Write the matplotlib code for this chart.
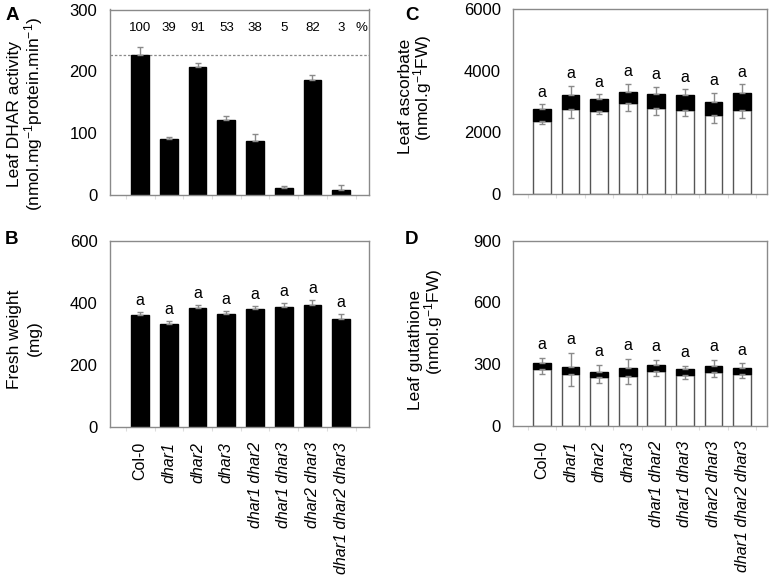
import matplotlib
matplotlib.use("Agg")
import matplotlib.pyplot as plt
import numpy as np

plt.rcParams['font.family'] = ['Liberation Sans', 'DejaVu Sans']
plt.rcParams['mathtext.default'] = 'regular'

genotypes = ['Col-0', 'dhar1', 'dhar2', 'dhar3', 'dhar1 dhar2',
             'dhar1 dhar3', 'dhar2 dhar3', 'dhar1 dhar2 dhar3']

dhar_activity = [227, 90, 207, 121, 88, 12, 186, 8]
dhar_err = [12, 3, 6, 6, 10, 3, 8, 8]
dhar_pct = ['100', '39', '91', '53', '38', '5', '82', '3']

fresh_weight = [360, 331, 385, 363, 379, 388, 392, 349]
fw_err = [10, 12, 7, 11, 10, 11, 16, 14]

asc_reduced = [2382, 2751, 2707, 2956, 2783, 2740, 2566, 2729]
asc_reduced_err = [118, 293, 108, 270, 227, 216, 260, 271]
asc_total = [2761, 3216, 3086, 3325, 3238, 3216, 2978, 3271]
asc_total_err = [152, 304, 152, 258, 249, 184, 293, 292]

gsh_reduced = [277, 254, 236, 244, 267, 249, 262, 252]
gsh_reduced_err = [25, 58, 29, 40, 24, 21, 24, 21]
gsh_total = [304, 288, 264, 282, 296, 275, 290, 283]
gsh_total_err = [25, 65, 31, 43, 25, 16, 29, 21]

letters = ['a'] * 8

W, H = 773, 581
fig = plt.figure(figsize=(W / 100, H / 100), dpi=100)

def make_ax(l, r, t, b):
    return fig.add_axes([l / W, 1 - b / H, (r - l) / W, (b - t) / H])

axA = make_ax(110, 369, 9.5, 195)
axB = make_ax(110, 369, 240.7, 427.3)
axC = make_ax(513.3, 766.7, 9.3, 194)
axD = make_ax(513.3, 766.7, 240.7, 426)

GRAY = '#8a8a8a'
x = np.arange(len(genotypes))
bw = 0.62

def style(ax, ymax, step, xlim):
    ax.set_ylim(0, ymax)
    ax.set_yticks(np.arange(0, ymax + 1, step))
    ax.set_xlim(*xlim)
    for s in ax.spines.values():
        s.set_color(GRAY)
        s.set_linewidth(1.0)
    ax.tick_params(axis='y', length=0, labelsize=12, pad=9)
    ax.tick_params(axis='x', length=3, color='#dddddd', direction='out')
    ax.set_xticks(np.arange(-0.5, len(genotypes) - 0.4, 1.0))
    ax.set_xticklabels([])

ekw = dict(ecolor=GRAY, elinewidth=1.0, capsize=2.2, capthick=1.0, fmt='none')

# Panel A
style(axA, 300, 100, (-1.05, 7.97))
axA.bar(x, dhar_activity, width=bw, color='black', edgecolor='black', zorder=2)
axA.errorbar(x, dhar_activity, yerr=[np.zeros(8), dhar_err], zorder=3, **ekw)
axA.axhline(dhar_activity[0], color=GRAY, linestyle=(0, (2, 1.5)), linewidth=0.9, zorder=1)
for xi, p in zip(x, dhar_pct):
    axA.text(xi, 270, p, ha='center', va='center', fontsize=9.5)
axA.text(7.7, 270, '%', ha='center', va='center', fontsize=9.5)

# Panel B
style(axB, 600, 200, (-1.05, 7.97))
axB.bar(x, fresh_weight, width=bw, color='black', edgecolor='black', zorder=2)
axB.errorbar(x, fresh_weight, yerr=[np.zeros(8), fw_err], zorder=3, **ekw)
for xi, v, e, l in zip(x, fresh_weight, fw_err, letters):
    axB.text(xi, v + e + 37, l, ha='center', va='center', fontsize=11.5)

# Panel C
style(axC, 6000, 2000, (-1.0, 7.86))
axC.bar(x, asc_reduced, width=bw, color='white', edgecolor='#555555', linewidth=1.0, zorder=2)
axC.bar(x, np.array(asc_total) - np.array(asc_reduced), bottom=asc_reduced, width=bw,
        color='black', edgecolor='black', zorder=2)
axC.errorbar(x, asc_total, yerr=[np.zeros(8), asc_total_err], zorder=3, **ekw)
axC.errorbar(x, asc_reduced, yerr=[asc_reduced_err, np.zeros(8)], zorder=3, **ekw)
for xi, v, e, l in zip(x, asc_total, asc_total_err, letters):
    axC.text(xi, v + e + 400, l, ha='center', va='center', fontsize=11.5)

# Panel D
style(axD, 900, 300, (-1.0, 7.86))
axD.bar(x, gsh_reduced, width=bw, color='white', edgecolor='#555555', linewidth=1.0, zorder=2)
axD.bar(x, np.array(gsh_total) - np.array(gsh_reduced), bottom=gsh_reduced, width=bw,
        color='black', edgecolor='black', zorder=2)
axD.errorbar(x, gsh_total, yerr=[np.zeros(8), gsh_total_err], zorder=3, **ekw)
axD.errorbar(x, gsh_reduced, yerr=[gsh_reduced_err, np.zeros(8)], zorder=3, **ekw)
for xi, v, e, l in zip(x, gsh_total, gsh_total_err, letters):
    axD.text(xi, v + e + 65, l, ha='center', va='center', fontsize=11.5)

# category labels under B and D
for ax in (axB, axD):
    for xi, g in zip(x, genotypes):
        ax.text(xi, -0.08, g, transform=ax.get_xaxis_transform(), rotation=90,
                ha='center', va='top', fontsize=11.5,
                fontstyle='normal' if g == 'Col-0' else 'italic')

# y labels
def ylab(xpx, ypx, s, fs=12.5):
    fig.text(xpx / W, 1 - ypx / H, s, rotation=90, ha='center', va='center', fontsize=fs)

ylab(15, 114, 'Leaf DHAR activity')
ylab(34, 114, '(nmol.mg$^{-1}$protein.min$^{-1}$)')
ylab(15, 339, 'Fresh weight')
ylab(34, 338, '(mg)')
ylab(405, 96, 'Leaf ascorbate')
ylab(423, 88, '(nmol.g$^{-1}$FW)')
ylab(415, 350, 'Leaf gutathione')
ylab(434, 322, '(nmol.g$^{-1}$FW)')

# panel letters
for px, py, s in [(12, 16, 'A'), (12, 239, 'B'), (412, 16, 'C'), (412, 239, 'D')]:
    fig.text(px / W, 1 - py / H, s, ha='center', va='center', fontsize=13.5, fontweight='bold')

fig.savefig('out.png', dpi=100)
